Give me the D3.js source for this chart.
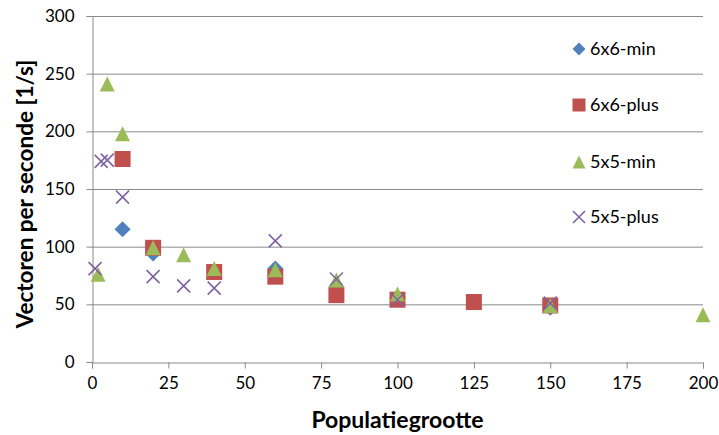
<!DOCTYPE html>
<html>
<head>
<meta charset="utf-8">
<script src="https://cdn.jsdelivr.net/npm/d3@7"></script>
<style>
  html, body { margin: 0; padding: 0; background: #fff; }
  svg { display: block; font-family: Lato, "Open Sans", sans-serif; }
</style>
</head>
<body>
<svg id="chart" width="719" height="435"></svg>
<script>
// Population size (x) against vectors per second (y), four configurations
const seriesNames = ["6x6-min", "6x6-plus", "5x5-min", "5x5-plus"];

const x6min  = [10, 20, 40, 60, 80, 100, 150];
const y6min  = [115, 94, 78, 81, 65, 56, 47];

const x6plus = [10, 20, 40, 60, 80, 100, 125, 150];
const y6plus = [176, 99, 78, 74, 58, 54, 52, 49];

const x5min  = [2, 5, 10, 20, 30, 40, 60, 80, 100, 150, 200];
const y5min  = [76, 241, 198, 99, 93, 81, 80, 71, 59, 49, 41];

const x5plus = [1, 3, 5, 10, 20, 30, 40, 60, 80, 100, 150];
const y5plus = [81, 174, 175, 143, 74, 66, 64, 105, 72, 54, 51];

const xTicks = [0, 25, 50, 75, 100, 125, 150, 175, 200];
const yTicks = [0, 50, 100, 150, 200, 250, 300];

const xTitle = "Populatiegrootte";
const yTitle = "Vectoren per seconde [1/s]";

const series = [
  { name: seriesNames[0], xs: x6min,  ys: y6min,  color: "#4F81BD", shape: "diamond" },
  { name: seriesNames[1], xs: x6plus, ys: y6plus, color: "#C0504D", shape: "square" },
  { name: seriesNames[2], xs: x5min,  ys: y5min,  color: "#9BBB59", shape: "triangle" },
  { name: seriesNames[3], xs: x5plus, ys: y5plus, color: "#8064A2", shape: "cross" }
];

const svg = d3.select("#chart");
const plot = { left: 92, right: 703, top: 16, bottom: 362 };

const x = d3.scaleLinear().domain([0, 200]).range([plot.left, plot.right]);
const y = d3.scaleLinear().domain([0, 300]).range([plot.bottom, plot.top]);

const gridColor = "#8a8a8a";

// horizontal gridlines
svg.append("g")
  .selectAll("line")
  .data(yTicks.filter(d => d > 0))
  .join("line")
  .attr("x1", plot.left).attr("x2", plot.right)
  .attr("y1", d => y(d) + 0.5).attr("y2", d => y(d) + 0.5)
  .attr("stroke", gridColor).attr("stroke-width", 1);

// axes
const yAxis = svg.append("g")
  .attr("transform", `translate(${plot.left + 0.5},0)`)
  .call(d3.axisLeft(y).tickValues(yTicks).tickSize(6).tickPadding(12));
const xAxis = svg.append("g")
  .attr("transform", `translate(0,${plot.bottom + 0.5})`)
  .call(d3.axisBottom(x).tickValues(xTicks).tickSize(6).tickPadding(8));

[xAxis, yAxis].forEach(g => {
  g.select(".domain").attr("stroke", gridColor);
  g.selectAll(".tick line").attr("stroke", gridColor);
  g.selectAll(".tick text")
    .attr("fill", "#000")
    .style("font-family", "Lato, sans-serif")
    .style("font-size", "17px");
});

// axis titles
svg.append("text")
  .attr("x", (plot.left + plot.right) / 2)
  .attr("y", 428)
  .attr("text-anchor", "middle")
  .style("font-weight", "bold")
  .style("font-size", "23px")
  .text(xTitle);

svg.append("text")
  .attr("transform", `translate(33,${(plot.top + plot.bottom) / 2 + 5}) rotate(-90)`)
  .attr("text-anchor", "middle")
  .style("font-weight", "bold")
  .style("font-size", "22.5px")
  .text(yTitle);

// marker shapes
function marker(sel, shape, color, s) {
  if (shape === "diamond") {
    sel.append("path")
      .attr("d", `M0,${-s / 2}L${s / 2},0L0,${s / 2}L${-s / 2},0Z`)
      .attr("fill", color);
  } else if (shape === "square") {
    sel.append("rect")
      .attr("x", -s / 2).attr("y", -s / 2)
      .attr("width", s).attr("height", s)
      .attr("fill", color);
  } else if (shape === "triangle") {
    sel.append("path")
      .attr("d", `M0,${-s / 2}L${s / 2},${s / 2}L${-s / 2},${s / 2}Z`)
      .attr("fill", color);
  } else {
    const h = s / 2;
    sel.append("path")
      .attr("d", `M${-h},${-h}L${h},${h}M${-h},${h}L${h},${-h}`)
      .attr("stroke", color).attr("stroke-width", 1.6).attr("fill", "none");
  }
}

const sizes = { diamond: 16, square: 16, triangle: 15, cross: 13 };

// data points, series drawn in order so later ones sit on top
series.forEach(s => {
  const pts = s.xs.map((xv, i) => [xv, s.ys[i]]);
  const g = svg.append("g").attr("class", "series");
  g.selectAll("g")
    .data(pts)
    .join("g")
    .attr("transform", d => `translate(${x(d[0])},${y(d[1])})`)
    .each(function () { marker(d3.select(this), s.shape, s.color, sizes[s.shape]); });
});

// legend
const legendY = [49, 105, 162, 217];
const legend = svg.append("g");
series.forEach((s, i) => {
  const row = legend.append("g").attr("transform", `translate(579,${legendY[i]})`);
  marker(row, s.shape, s.color, s.shape === "cross" ? 12 : 13);
  row.append("text")
    .attr("x", 11)
    .attr("dy", "0.35em")
    .style("font-size", "18px")
    .text(s.name);
});
</script>
</body>
</html>
